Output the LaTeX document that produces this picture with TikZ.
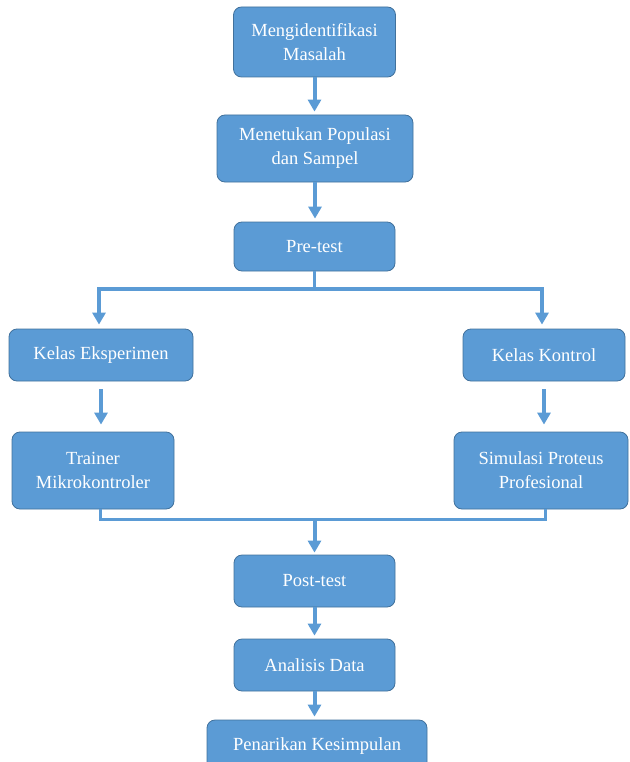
\documentclass[tikz,border=0pt]{standalone}
\usepackage{fontspec}
\setmainfont{Liberation Serif}
\usepackage{tikz}
\usetikzlibrary{arrows.meta,positioning}
\usepackage{color}
\definecolor{boxblue}{HTML}{5B9BD5}
\definecolor{edgeblue}{HTML}{41719C}
\colorlet{lineblue}{boxblue}

\begin{document}
\begin{tikzpicture}[x=1pt,y=-1pt,
    stepbox/.style={draw=edgeblue, line width=0.8pt, fill=boxblue, rounded corners=8pt,
        text=white, align=center, inner sep=2pt, font=\fontsize{18.5}{24}\selectfont},
    link/.style={lineblue, line width=3pt},
    arr/.style={lineblue, line width=4pt, -{Triangle[width=13pt,length=12pt]}}]
        \clip (0,0) rectangle (629,762);
        % main column
        \node[stepbox, minimum width=162pt, minimum height=70pt] (ident) at (314.5,42) {Mengidentifikasi\\Masalah};
        \node[stepbox, minimum width=196pt, minimum height=67pt] (popul) at (315,148.5) {Menetukan Populasi\\dan Sampel};
        \node[stepbox, minimum width=161pt, minimum height=49pt] (pre) at (314.5,246.5) {Pre-test};
        % two classes
        \node[stepbox, minimum width=184pt, minimum height=52pt] (eks) at (101,355) {Kelas Eksperimen};
        \node[stepbox, minimum width=162pt, minimum height=52pt] (kon) at (544,355) {Kelas Kontrol};
        \node[stepbox, minimum width=162pt, minimum height=77pt] (trainer) at (93,470.5) {Trainer\\Mikrokontroler};
        \node[stepbox, minimum width=174pt, minimum height=77pt] (sim) at (541,470.5) {Simulasi Proteus\\Profesional};
        % after treatment
        \node[stepbox, minimum width=161pt, minimum height=52pt] (post) at (314.5,581) {Post-test};
        \node[stepbox, minimum width=161pt, minimum height=52pt] (anal) at (314.5,665) {Analisis Data};
        \node[stepbox, minimum width=220pt, minimum height=52pt] (tarik) at (317,746) {Penarikan Kesimpulan};

        \coordinate (split) at (314.5,289);
        \coordinate (join) at (314.5,519);

        \foreach \a/\b in {ident/popul,popul/pre,post/anal,anal/tarik}{
            \draw[arr, shorten >=3pt] (\a.south) -- (\a.south |- \b.north);
        }
        \draw[link] (pre) -- (split);
        \draw[arr, shorten >=4pt] (split) -| ([xshift=-2pt]eks.north);
        \draw[arr, shorten >=4pt] (split) -| ([xshift=-2pt]kon.north);
        \foreach \a/\b in {eks/trainer,kon/sim}{
            \draw[arr, shorten <=8pt, shorten >=7pt] (\a.south) -- (\a.south |- \b.north);
        }
        \draw[link] ([xshift=7pt]trainer.south) |- (join) -| ([xshift=4pt]sim.south);
        \draw[arr, shorten >=2pt] (join) -- (post);
    \end{tikzpicture}
\end{document}
